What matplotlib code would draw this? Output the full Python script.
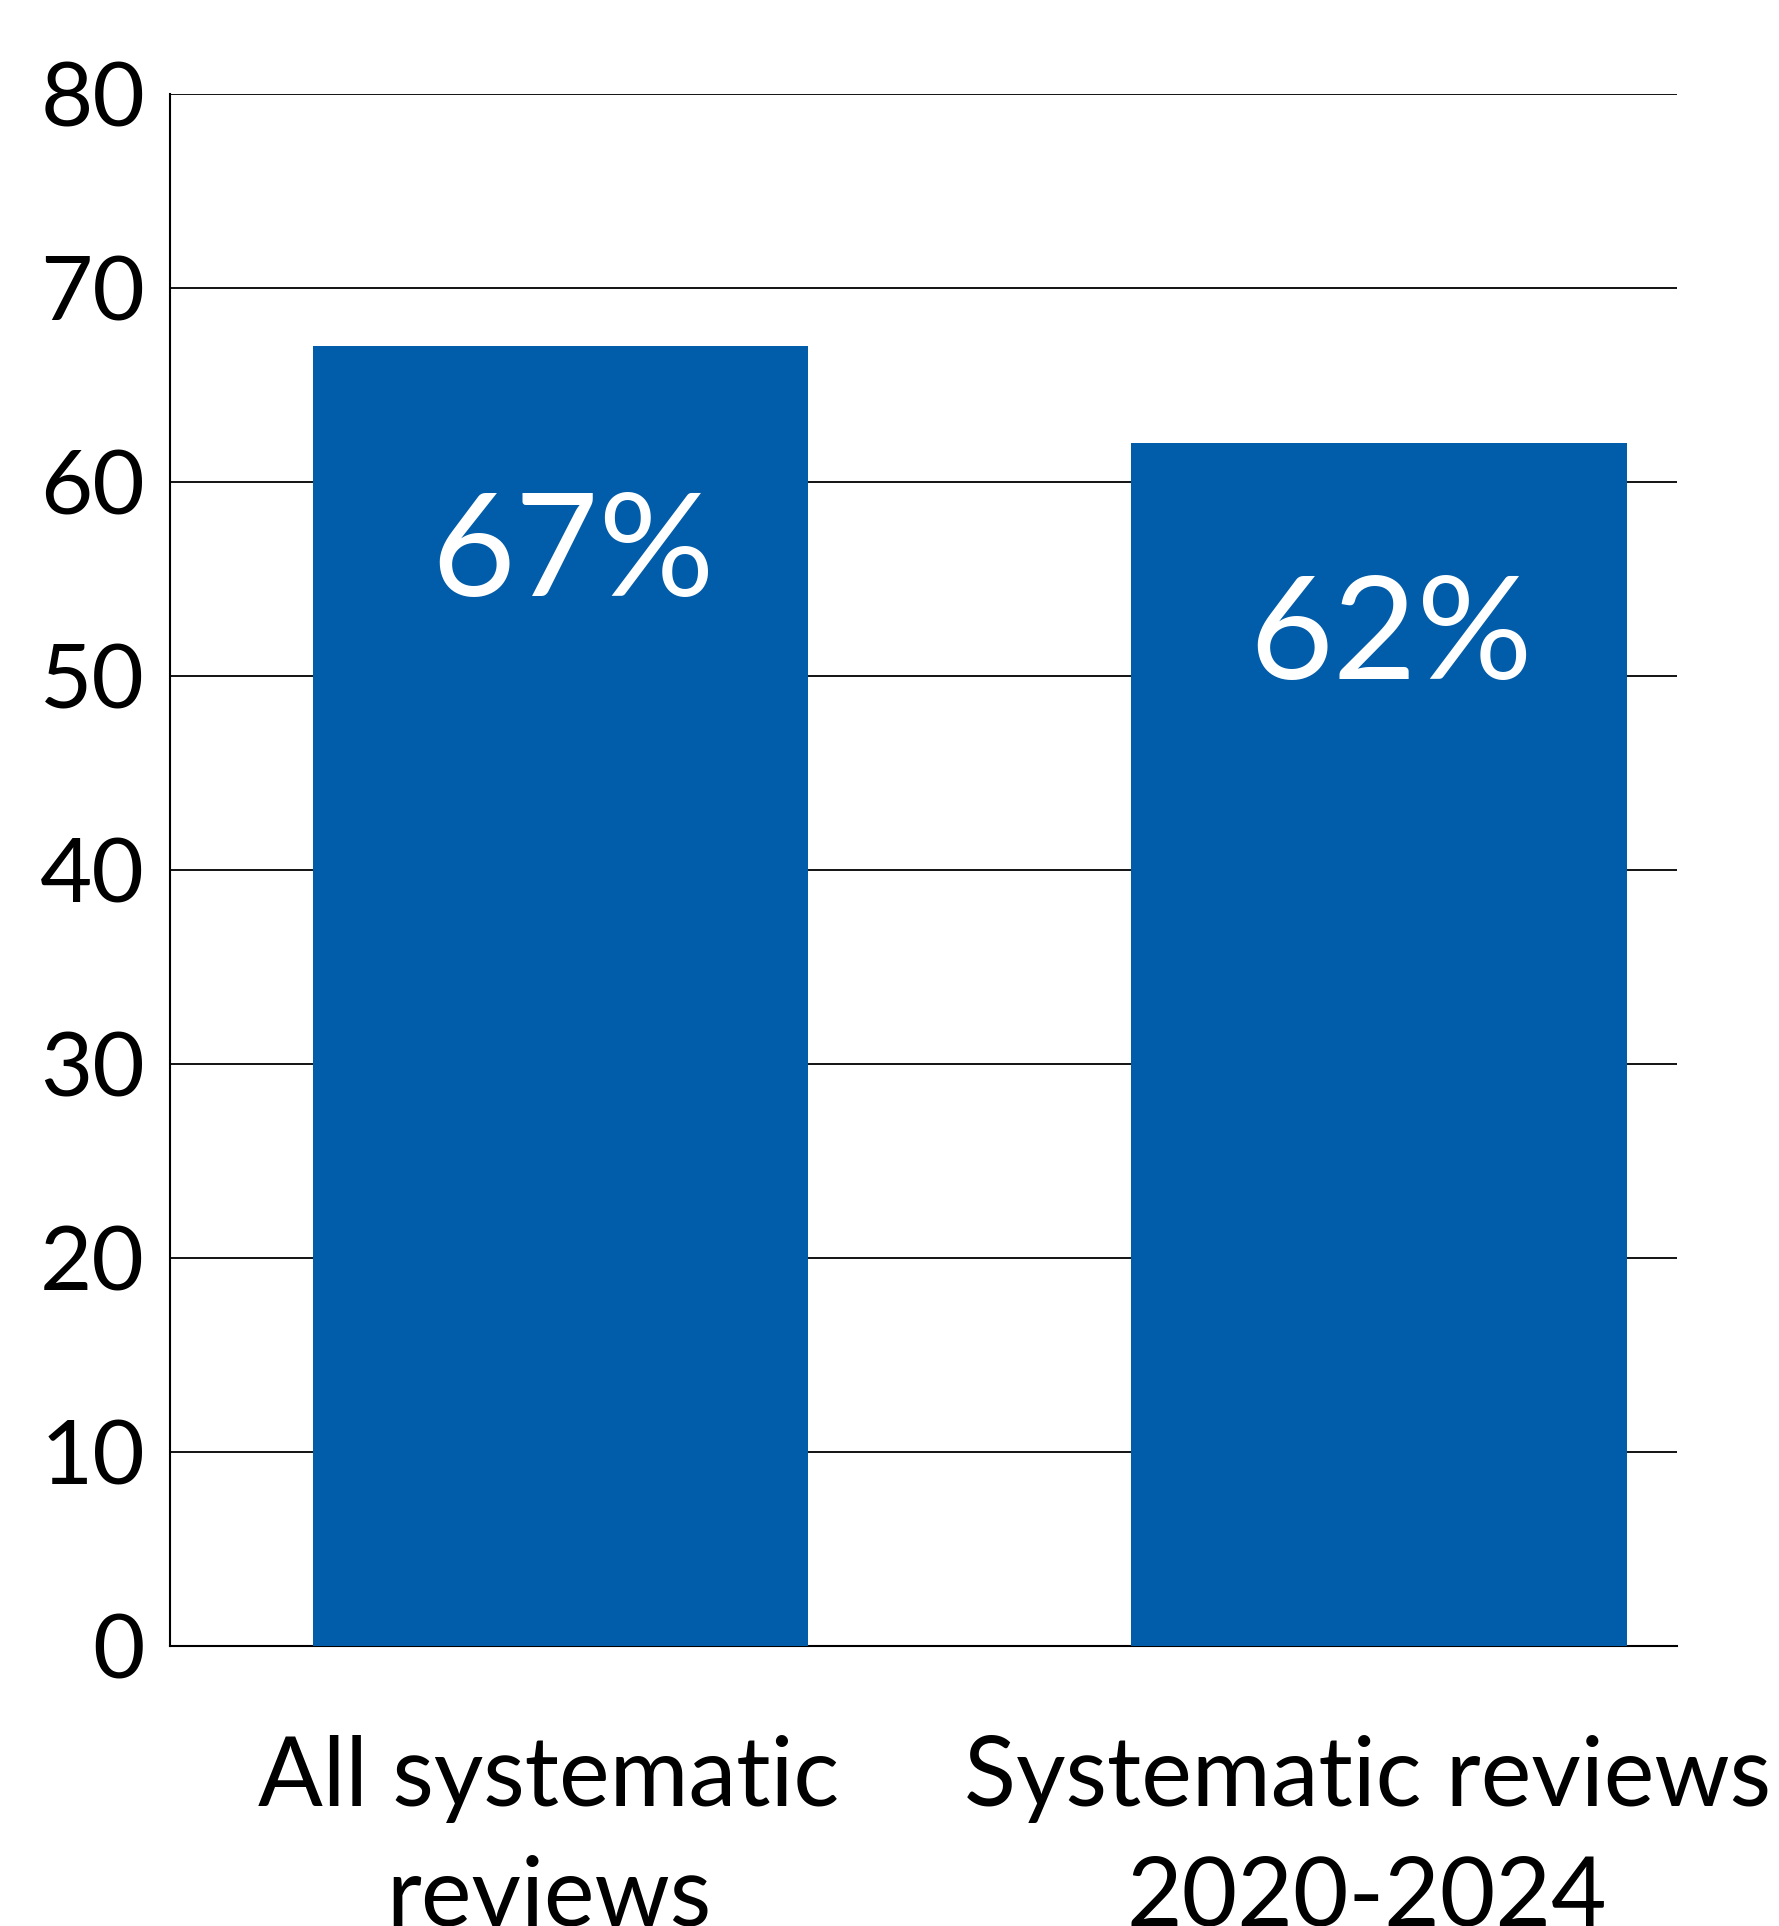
import matplotlib.pyplot as plt
import matplotlib.transforms as mtransforms
import numpy as np

# data
categories = ["All systematic\nreviews", "Systematic reviews\n2020-2024"]
values = [67, 62]
bar_labels = ["67%", "62%"]
yticks = [0, 10, 20, 30, 40, 50, 60, 70, 80]

# label placement below bar top (axis units)
label_drop = [10.8, 10.05]

plt.rcParams['font.family'] = ['Lato', 'DejaVu Sans']

fig = plt.figure(figsize=(17.79, 19.26), dpi=100)
ax = fig.add_axes([0.0956, 0.1454, 0.9427 - 0.0956, 0.9513 - 0.1454])

x = np.arange(len(categories))
ax.bar(x, values, width=0.605, color="#015CA9", zorder=3)

for xi, v, lab, d in zip(x, values, bar_labels, label_drop):
    ax.text(xi + 0.015, v - d, lab, ha="center", va="center",
            color="white", fontsize=104, zorder=4)

ax.set_xlim(-0.477, 1.364)
ax.set_ylim(0, 80)
ax.set_yticks(yticks)
ax.set_yticklabels([str(t) for t in yticks], fontsize=65)
ax.set_xticks(x)
ax.set_xticklabels(categories, fontsize=69, linespacing=1.45)
ax.tick_params(axis="y", length=0, pad=18)
ax.tick_params(axis="x", length=0, pad=64)

# nudge category labels slightly left
shift = mtransforms.ScaledTranslation(-0.12, 0, fig.dpi_scale_trans)
for t in ax.get_xticklabels():
    t.set_transform(t.get_transform() + shift)

ax.yaxis.grid(True, color="black", linewidth=1.3, zorder=0)
ax.set_axisbelow(True)
for s in ["top", "right"]:
    ax.spines[s].set_visible(False)
ax.spines["left"].set_linewidth(1.5)
ax.spines["bottom"].set_linewidth(1.5)

fig.savefig("out.png", dpi=100)
